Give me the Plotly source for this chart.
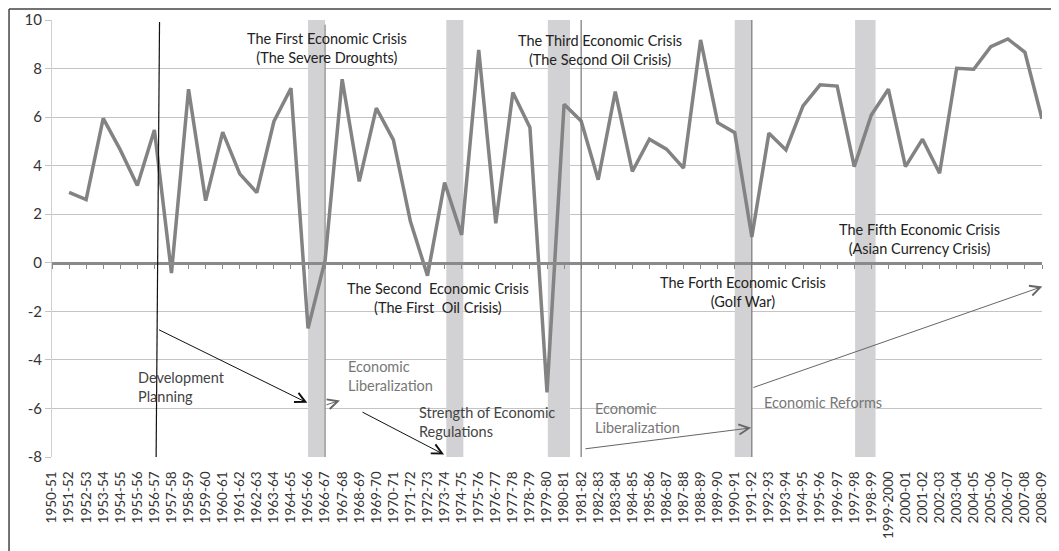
import plotly.graph_objects as go

# --- data ---
years = ["1950-51", "1951-52", "1952-53", "1953-54", "1954-55", "1955-56", "1956-57", "1957-58",
         "1958-59", "1959-60", "1960-61", "1961-62", "1962-63", "1963-64", "1964-65", "1965-66",
         "1966-67", "1967-68", "1968-69", "1969-70", "1970-71", "1971-72", "1972-73", "1973-74",
         "1974-75", "1975-76", "1976-77", "1977-78", "1978-79", "1979-80", "1980-81", "1981-82",
         "1982-83", "1983-84", "1984-85", "1985-86", "1986-87", "1987-88", "1988-89", "1989-90",
         "1990-91", "1991-92", "1992-93", "1993-94", "1994-95", "1995-96", "1996-97", "1997-98",
         "1998-99", "1999-2000", "2000-01", "2001-02", "2002-03", "2003-04", "2004-05", "2005-06",
         "2006-07", "2007-08", "2008-09"]

# growth rate (%), no value for the base year 1950-51
growth = [None, 2.9, 2.6, 5.95, 4.65, 3.18, 5.47, -0.42,
          7.15, 2.56, 5.38, 3.66, 2.89, 5.82, 7.19, -2.7,
          0.1, 7.56, 3.35, 6.37, 5.06, 1.70, -0.53, 3.30,
          1.15, 8.77, 1.63, 7.01, 5.57, -5.34, 6.53, 5.84,
          3.42, 7.05, 3.76, 5.09, 4.68, 3.90, 9.18, 5.77,
          5.36, 1.06, 5.34, 4.65, 6.46, 7.33, 7.28, 3.96,
          6.09, 7.15, 3.96, 5.09, 3.69, 8.01, 7.97, 8.90,
          9.22, 8.67, 5.93]

y_ticks = [-8, -6, -4, -2, 0, 2, 4, 6, 8, 10]
y_tick_text = ["-8", "-6", "-4", "-2", "0", "2", "4", "6", "8", "10"]

# crisis bands (category index start / end)
band_start = [15.0, 23.1, 29.05, 40.0, 47.05]
band_end = [16.0, 24.1, 30.35, 41.0, 48.25]

# period separators: (x top, y top, x bottom, y bottom, colour)
separators = [(6.3, 9.92, 6.1, -8.0, "#111111"),
              (16.0, 9.8, 16.0, -8.2, "#8a8a8a"),
              (31.0, 10.0, 31.0, -8.0, "#777777"),
              (41.0, 10.0, 41.0, -8.0, "#777777")]

# arrows: (tail x, tail y, head x, head y, colour)
arrows = [(6.18, -2.73, 14.96, -5.77, "#111111"),
          (15.99, -5.87, 16.87, -5.67, "#666666"),
          (18.1, -6.12, 22.97, -7.9, "#111111"),
          (31.16, -7.67, 40.96, -6.8, "#666666"),
          (41.0, -5.16, 58.02, -0.98, "#666666")]

# labels: (x, y, text, align, colour)
labels = [(16.1, 8.85, "The First Economic Crisis<br>(The Severe Droughts)", "center", "#222222"),
          (32.1, 8.75, "The Third Economic Crisis<br>(The Second Oil Crisis)", "center", "#222222"),
          (50.85, 1.0, "The Fifth Economic Crisis<br>(Asian Currency Crisis)", "center", "#222222"),
          (22.6, -1.45, "The Second  Economic Crisis<br>(The First  Oil Crisis)", "center", "#222222"),
          (40.5, -1.2, "The Forth Economic Crisis<br>(Golf War)", "center", "#222222"),
          (4.95, -5.1, "Development<br>Planning", "left", "#444444"),
          (17.2, -4.65, "Economic<br>Liberalization", "left", "#777777"),
          (21.4, -6.55, "Strength of Economic<br>Regulations", "left", "#444444"),
          (31.7, -6.4, "Economic<br>Liberalization", "left", "#777777"),
          (41.6, -5.75, "Economic Reforms", "left", "#777777")]

xs = list(range(len(years)))
FONT = "Lato, 'Open Sans', sans-serif"

fig = go.Figure()
fig.add_trace(go.Scatter(x=xs, y=growth, mode="lines", line=dict(color="#838383", width=3.5),
                         connectgaps=False, showlegend=False, hoverinfo="x+y"))
# helper trace for the category axis drawn through zero
fig.add_trace(go.Scatter(x=[0, 58], y=[None, None], xaxis="x2", showlegend=False, hoverinfo="skip"))

shapes = []
for a, b in zip(band_start, band_end):
    shapes.append(dict(type="rect", xref="x", yref="y", x0=a, x1=b, y0=-8, y1=10,
                       fillcolor="#d2d2d4", line=dict(width=0), layer="between"))
for x0, y0, x1, y1, c in separators:
    shapes.append(dict(type="line", xref="x", yref="y", x0=x0, y0=y0, x1=x1, y1=y1,
                       line=dict(color=c, width=1.2)))
# outer frame of the chart
shapes.append(dict(type="line", xref="paper", yref="paper", x0=-0.0434, x1=1.02, y0=1.025, y1=1.025,
                   line=dict(color="#444444", width=1.5)))
shapes.append(dict(type="line", xref="paper", yref="paper", x0=-0.0434, x1=-0.0434, y0=1.025, y1=-0.25,
                   line=dict(color="#444444", width=1.5)))

annotations = []
for tx, ty, hx, hy, c in arrows:
    annotations.append(dict(x=hx, y=hy, ax=tx, ay=ty, xref="x", yref="y", axref="x", ayref="y",
                            text="", showarrow=True, arrowhead=5, arrowsize=2, arrowwidth=1,
                            arrowcolor=c, standoff=0))
for x, y, t, al, c in labels:
    annotations.append(dict(x=x, y=y, xref="x", yref="y", text=t, showarrow=False, align=al,
                            xanchor="center" if al == "center" else "left", yanchor="middle",
                            font=dict(family=FONT, size=14.5, color=c)))

# the page body adds an 8px offset, so the figure is 8px smaller
fig.update_layout(
    width=1051, height=543,
    paper_bgcolor="white", plot_bgcolor="white",
    margin=dict(l=44, r=17, t=12, b=94),
    font=dict(family=FONT, size=14, color="#333333"),
    shapes=shapes, annotations=annotations,
    xaxis=dict(range=[0, 58], tickmode="array", tickvals=xs, ticktext=years, tickangle=-90,
               showgrid=False, zeroline=False, showline=False, ticks="outside", ticklen=8,
               tickcolor="rgba(0,0,0,0)", automargin=False,
               tickfont=dict(family=FONT, size=13.5, color="#333333")),
    xaxis2=dict(range=[0, 58], overlaying="x", anchor="free", position=8 / 18, side="bottom",
                tickmode="array", tickvals=xs, showticklabels=False, ticks="outside", ticklen=4,
                tickcolor="#8a8a8a", showline=True, linecolor="#8a8a8a", linewidth=2.5,
                showgrid=False, zeroline=False, automargin=False),
    yaxis=dict(range=[-8, 10], tickmode="array", tickvals=y_ticks, ticktext=y_tick_text,
               showgrid=True, gridcolor="#c4c4c4", gridwidth=1, zeroline=False, showline=True,
               linecolor="#d0d0d0", ticks="outside", ticklen=6, tickcolor="#c4c4c4",
               automargin=False, tickfont=dict(family=FONT, size=15, color="#333333")),
)

fig.write_html("out.html")
